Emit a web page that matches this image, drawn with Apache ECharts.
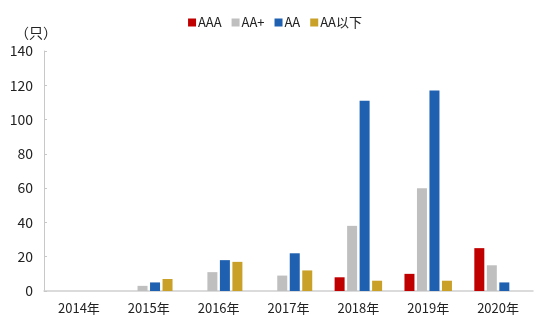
<!DOCTYPE html>
<html>
<head>
<meta charset="utf-8">
<script src="https://cdn.jsdelivr.net/npm/echarts@6/dist/echarts.min.js"></script>
<style>
html,body{margin:0;padding:0;background:#fff;}
#chart{width:550px;height:330px;}
</style>
</head>
<body>
<div id="chart"></div>
<script>
var categories = ['2014年','2015年','2016年','2017年','2018年','2019年','2020年'];
var seriesNames = ['AAA','AA+','AA','AA以下'];
var aaa      = [0, 0, 0, 0, 8, 10, 25];
var aaPlus   = [0, 3, 11, 9, 38, 60, 15];
var aa       = [0, 5, 18, 22, 111, 117, 5];
var belowAA  = [0, 7, 17, 12, 6, 6, 0];
var yTicks = [0, 20, 40, 60, 80, 100, 120, 140];
var colors = ['#C00000', '#BFBFBF', '#1F60B0', '#C9A129'];

var font = '"Noto Sans CJK SC", "Noto Sans", sans-serif';
var values = [aaa, aaPlus, aa, belowAA];
var chart = echarts.init(document.getElementById('chart'));
chart.setOption({
  animation: false,
  color: colors,
  textStyle: { fontFamily: font },
  legend: {
    data: seriesNames,
    top: 11,
    left: 'center',
    itemWidth: 8,
    itemHeight: 8,
    itemGap: 10,
    icon: 'rect',
    textStyle: { fontSize: 13, color: '#222', fontFamily: font, padding: [0, 0, 0, -3] }
  },
  grid: { left: 44, right: 17, top: 51, bottom: 39, containLabel: false },
  xAxis: {
    type: 'category',
    data: categories,
    axisLine: { show: true, lineStyle: { color: '#D0D0D0', width: 1.5 } },
    axisTick: { show: false },
    axisLabel: { fontSize: 13, color: '#222', margin: 11, fontFamily: font }
  },
  yAxis: {
    type: 'value',
    min: yTicks[0],
    max: yTicks[yTicks.length - 1],
    interval: 20,
    name: '（只）',
    nameLocation: 'end',
    nameGap: 11,
    nameTextStyle: { fontSize: 14, color: '#222', padding: [0, 16, 0, 0], fontFamily: font },
    axisLine: { show: true, lineStyle: { color: '#C8C8C8', width: 1 } },
    axisTick: { show: true, inside: true, length: 3, lineStyle: { color: '#C8C8C8' } },
    splitLine: { show: false },
    axisLabel: { fontSize: 14, color: '#222', margin: 11, fontFamily: font }
  },
  series: seriesNames.map(function (n, i) {
    return {
      name: n,
      type: 'bar',
      data: values[i],
      barWidth: 10,
      barGap: '25%'
    };
  })
});
</script>
</body>
</html>
